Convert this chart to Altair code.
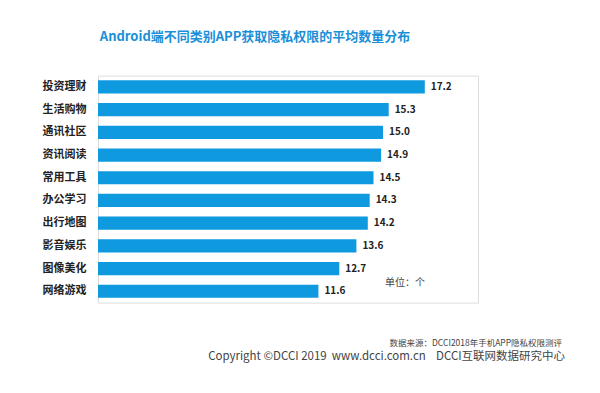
import altair as alt
import pandas as pd

categories = ["投资理财", "生活购物", "通讯社区", "资讯阅读", "常用工具",
              "办公学习", "出行地图", "影音娱乐", "图像美化", "网络游戏"]
values = [17.2, 15.3, 15.0, 14.9, 14.5, 14.3, 14.2, 13.6, 12.7, 11.6]
labels = ["17.2", "15.3", "15.0", "14.9", "14.5", "14.3", "14.2", "13.6", "12.7", "11.6"]

title_text = "Android端不同类别APP获取隐私权限的平均数量分布"
unit_text = "单位：个"
source_text = "数据来源：DCCI2018年手机APP隐私权限测评"
copyright_text = "Copyright ©DCCI 2019\u00a0\u00a0www.dcci.com.cn\u00a0\u00a0\u00a0\u00a0DCCI互联网数据研究中心"

df = pd.DataFrame({"cat": categories, "val": values, "lab": labels})
FONT = "Noto Sans CJK SC"

base = alt.Chart(df)

y_enc = alt.Y("cat:N", sort=categories,
              scale=alt.Scale(paddingInner=0.42, paddingOuter=0.21),
              axis=alt.Axis(title=None, domain=False, ticks=False, labelPadding=12,
                            labelFont=FONT, labelFontSize=11, labelFontWeight="bold",
                            labelColor="#222222"))
x_enc = alt.X("val:Q", scale=alt.Scale(domain=[0, 20]), axis=None)

bars = base.mark_bar(color="#0f9ae0").encode(x=x_enc, y=y_enc)
vals = base.mark_text(align="left", dx=6, font=FONT, fontSize=10, fontWeight="bold",
                      color="#222222").encode(x=x_enc, y=y_enc, text="lab:N")

def note(txt, x, y, size, color, align="left", weight="normal"):
    return alt.Chart(pd.DataFrame({"t": [txt]})).mark_text(
        align=align, baseline="middle", font=FONT, fontSize=size,
        fontWeight=weight, color=color
    ).encode(x=alt.value(x), y=alt.value(y), text="t:N")

title = note(title_text, 157, -38.6, 13, "#1a8fd8", align="center", weight="bold")
unit = note(unit_text, 287, 207, 10, "#444444")
source = note(source_text, 464, 267, 8.5, "#444444", align="right")
copy_ = note(copyright_text, 467, 281.5, 11.5, "#444444", align="right")

chart = alt.layer(bars, vals, title, unit, source, copy_).properties(
    width=380, height=227,
    autosize=alt.AutoSizeParams(type="none"),
    padding={"left": 90, "top": 67.6, "right": 106, "bottom": 70},
).configure_view(stroke=None).configure(background="white")

chart.save("out.html", embed_options={"renderer": "svg", "actions": False})
